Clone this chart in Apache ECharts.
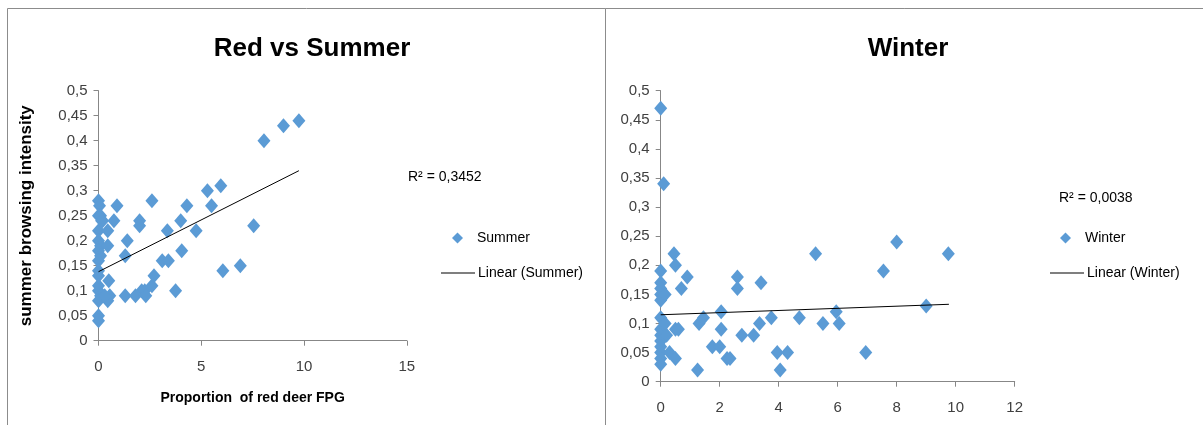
<!DOCTYPE html>
<html>
<head>
<meta charset="utf-8">
<script src="https://cdn.jsdelivr.net/npm/echarts@6/dist/echarts.min.js"></script>
<style>
  html, body { margin: 0; padding: 0; background: #ffffff; }
  #chart { width: 1203px; height: 425px; }
</style>
</head>
<body>
<div id="chart"></div>
<script>
// Summer: proportion of red deer FPG vs summer browsing intensity
const summerX = [0, 0.05, 0, 0.1, 0.2, 0, 0, 0.1, 0, 0.1, 0, 0, 0, 0, 0, 0.1, 0, 0, 0,
  0.15, 0.45, 0.45, 0.75, 0.9, 0.5, 0.55, 0.45, 0.3,
  1.4, 1.3, 1.3, 1.8, 2.0, 2.0, 2.1, 2.25, 2.3, 2.6, 2.7, 2.6,
  3.1, 3.4, 3.35, 3.75, 4.0, 4.05, 4.3, 4.75, 5.5, 5.3, 5.95, 6.05, 6.9, 7.55, 8.05, 9.0, 9.75];
const summerY = [0.28, 0.27, 0.25, 0.25, 0.24, 0.22, 0.20, 0.19, 0.18, 0.17, 0.16, 0.14, 0.13, 0.11, 0.10, 0.09, 0.08, 0.05, 0.04,
  0.24, 0.22, 0.19, 0.24, 0.27, 0.12, 0.09, 0.08, 0.09,
  0.20, 0.17, 0.09, 0.09, 0.24, 0.23, 0.10, 0.10, 0.09, 0.11, 0.13, 0.28,
  0.16, 0.16, 0.22, 0.10, 0.24, 0.18, 0.27, 0.22, 0.27, 0.30, 0.31, 0.14, 0.15, 0.23, 0.40, 0.43, 0.44];
const summerTrendX = [0, 9.75];
const summerTrendY = [0.138, 0.34];

// Winter: proportion of red deer FPG vs winter browsing intensity
const winterX = [0, 0.1, 0.45, 0.5, 0, 0.9, 0.7,
  0, 0, 0, 0, 0, 0, 0, 0, 0, 0, 0, 0,
  0.15, 0.15, 0.2, 0.3, 0.5, 0.5, 0.6,
  1.25, 1.3, 1.45, 1.75, 2.0, 2.05, 2.05, 2.25, 2.35, 2.6, 2.6, 2.75, 3.15, 3.35, 3.4,
  3.75, 3.95, 4.05, 4.3, 4.7, 5.25, 5.5, 5.95, 6.05, 6.95, 7.55, 8.0, 9.0, 9.75];
const winterY = [0.47, 0.34, 0.22, 0.20, 0.19, 0.18, 0.16,
  0.17, 0.16, 0.15, 0.14, 0.11, 0.09, 0.08, 0.07, 0.06, 0.05, 0.04, 0.03,
  0.15, 0.10, 0.08, 0.05, 0.04, 0.09, 0.09,
  0.02, 0.10, 0.11, 0.06, 0.06, 0.12, 0.09, 0.04, 0.04, 0.18, 0.16, 0.08, 0.08, 0.10, 0.17,
  0.11, 0.05, 0.02, 0.05, 0.11, 0.22, 0.10, 0.12, 0.10, 0.05, 0.19, 0.24, 0.13, 0.22];
const winterTrendX = [0, 9.77];
const winterTrendY = [0.115, 0.133];

const yTicksMax = 0.5;
const yTickStep = 0.05;
const summerXMax = 15, summerXStep = 5;
const winterXMax = 12, winterXStep = 2;

const summerR2 = 'R² = 0,3452';
const winterR2 = 'R² = 0,0038';

const pairs = (xs, ys) => xs.map((x, i) => [x, ys[i]]);

const FONT = '"Liberation Sans Narrow", "Liberation Sans", sans-serif';
const AXIS_GREY = '#878787';
const TEXT = '#404040';
const BLUE = '#5B9BD5';

const commaFmt = v => String(Math.round(v * 100) / 100).replace('.', ',');

function yAxis(gridIndex, name) {
  return {
    gridIndex, type: 'value', min: 0, max: yTicksMax, interval: yTickStep,
    name: name || '', nameLocation: 'middle', nameGap: 64,
    nameTextStyle: { fontFamily: FONT, fontWeight: 'bold', fontSize: 17, color: '#000' },
    axisLine: { show: true, lineStyle: { color: AXIS_GREY, width: 1 } },
    axisTick: { show: true, inside: false, length: 5, lineStyle: { color: AXIS_GREY } },
    splitLine: { show: false },
    axisLabel: { fontFamily: FONT, fontSize: 15, color: TEXT, margin: 11, formatter: commaFmt }
  };
}
function xAxis(gridIndex, max, step, name) {
  return {
    gridIndex, type: 'value', min: 0, max, interval: step,
    name: name || '', nameLocation: 'middle', nameGap: 50,
    nameTextStyle: { fontFamily: FONT, fontWeight: 'bold', fontSize: 14, color: '#000' },
    axisLine: { show: true, onZero: false, lineStyle: { color: AXIS_GREY, width: 1 } },
    axisTick: { show: true, inside: false, length: 5, lineStyle: { color: AXIS_GREY } },
    splitLine: { show: false },
    axisLabel: { fontFamily: FONT, fontSize: 15, color: TEXT, margin: 19 }
  };
}

const chart = echarts.init(document.getElementById('chart'), null, { renderer: 'canvas' });

chart.setOption({
  animation: false,
  backgroundColor: '#ffffff',
  title: [
    { text: 'Red vs Summer', left: 307, top: 31, textAlign: 'center',
      textStyle: { fontFamily: FONT, fontWeight: 'bold', fontSize: 26, color: '#000' } },
    { text: 'Winter', left: 903, top: 31, textAlign: 'center',
      textStyle: { fontFamily: FONT, fontWeight: 'bold', fontSize: 26, color: '#000' } },
    { text: summerR2, left: 403, top: 165,
      textStyle: { fontFamily: FONT, fontWeight: 'normal', fontSize: 14, color: '#000' } },
    { text: winterR2, left: 1054, top: 186,
      textStyle: { fontFamily: FONT, fontWeight: 'normal', fontSize: 14, color: '#000' } }
  ],
  grid: [
    { left: 98.5, top: 90.7, width: 308.3, height: 250 },
    { left: 660.7, top: 90.7, width: 354, height: 291 }
  ],
  xAxis: [
    xAxis(0, summerXMax, summerXStep, 'Proportion  of red deer FPG'),
    xAxis(1, winterXMax, winterXStep, '')
  ],
  yAxis: [
    yAxis(0, 'summer browsing intensity'),
    yAxis(1, '')
  ],
  legend: [
    { data: [{ name: 'Summer', icon: 'diamond' }], orient: 'vertical', left: 447, top: 226,
      itemWidth: 11, itemHeight: 11, itemGap: 10,
      textStyle: { fontFamily: FONT, fontSize: 14, color: '#000', padding: [0, 0, 0, 9] } },
    { data: [{ name: 'Linear (Summer)', icon: 'rect' }], orient: 'vertical', left: 436, top: 261,
      itemWidth: 34, itemHeight: 1, itemGap: 10,
      textStyle: { fontFamily: FONT, fontSize: 14, color: '#000', padding: [0, 0, 0, -2] } },
    { data: [{ name: 'Winter', icon: 'diamond' }], orient: 'vertical', left: 1055, top: 226,
      itemWidth: 11, itemHeight: 11, itemGap: 10,
      textStyle: { fontFamily: FONT, fontSize: 14, color: '#000', padding: [0, 0, 0, 9] } },
    { data: [{ name: 'Linear (Winter)', icon: 'rect' }], orient: 'vertical', left: 1045, top: 261,
      itemWidth: 34, itemHeight: 1, itemGap: 10,
      textStyle: { fontFamily: FONT, fontSize: 14, color: '#000', padding: [0, 0, 0, -2] } }
  ],
  series: [
    { name: 'Summer', type: 'scatter', xAxisIndex: 0, yAxisIndex: 0,
      symbol: 'diamond', symbolSize: [13, 15],
      itemStyle: { color: BLUE, opacity: 1 },
      data: pairs(summerX, summerY) },
    { name: 'Linear (Summer)', type: 'line', xAxisIndex: 0, yAxisIndex: 0,
      showSymbol: false, symbol: 'none',
      lineStyle: { color: '#000', width: 1 }, itemStyle: { color: '#000' },
      data: pairs(summerTrendX, summerTrendY), z: 3 },
    { name: 'Winter', type: 'scatter', xAxisIndex: 1, yAxisIndex: 1,
      symbol: 'diamond', symbolSize: [13, 15],
      itemStyle: { color: BLUE, opacity: 1 },
      data: pairs(winterX, winterY) },
    { name: 'Linear (Winter)', type: 'line', xAxisIndex: 1, yAxisIndex: 1,
      showSymbol: false, symbol: 'none',
      lineStyle: { color: '#000', width: 1 }, itemStyle: { color: '#000' },
      data: pairs(winterTrendX, winterTrendY), z: 3 }
  ],
  graphic: [
    // panel frames
    { type: 'line', shape: { x1: 7.5, y1: 8.5, x2: 1203, y2: 8.5 },
      style: { stroke: '#8c8c8c', lineWidth: 1 }, silent: true },
    { type: 'line', shape: { x1: 7.5, y1: 8.5, x2: 7.5, y2: 425 },
      style: { stroke: '#8c8c8c', lineWidth: 1 }, silent: true },
    { type: 'line', shape: { x1: 605.5, y1: 8.5, x2: 605.5, y2: 425 },
      style: { stroke: '#8c8c8c', lineWidth: 1 }, silent: true }
  ]
});
</script>
</body>
</html>
